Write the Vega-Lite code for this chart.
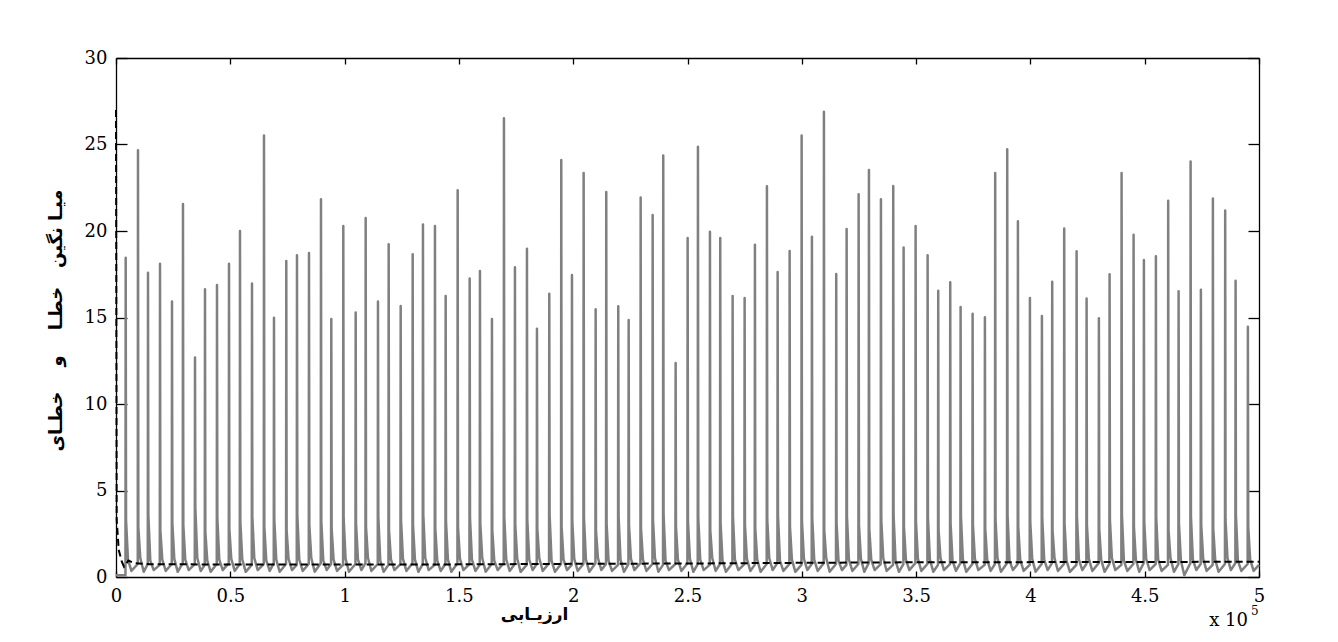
{
"$schema":"https://vega.github.io/schema/vega-lite/v6.json",
"width":1143,"height":519,
"autosize":{"type":"none"},
"padding":{"left":116,"top":58,"right":79,"bottom":65},
"background":"white",
"config":{"view":{"stroke":null},"axis":{"grid":false,"domainColor":"black","tickColor":"black","labelColor":"black","domainWidth":1.3,"tickWidth":1.3,"labelFont":"DejaVu Serif","labelFontSize":18,"labelFontWeight":"normal","labelFlush":false,"labelOverlap":false}},
"datasets":{
"gray":[
{"x":0,"y":0.1},{"x":4140,"y":0.1},{"x":4240,"y":18.46},{"x":4390,"y":3.3},{"x":5240,"y":1.0},{"x":6740,"y":0.35},
{"x":9520,"y":0.75},{"x":9620,"y":24.67},{"x":9770,"y":2.9},{"x":10620,"y":1.1},{"x":12120,"y":0.3},
{"x":13900,"y":0.75},{"x":14000,"y":17.58},{"x":14150,"y":3.6},{"x":15000,"y":0.95},{"x":16500,"y":0.4},
{"x":19150,"y":0.7},{"x":19250,"y":18.1},{"x":19400,"y":2.7},{"x":20250,"y":1.0},{"x":21750,"y":0.35},
{"x":24400,"y":0.75},{"x":24500,"y":15.92},{"x":24650,"y":3.1},{"x":25500,"y":1.05},{"x":27000,"y":0.3},
{"x":29200,"y":0.8},{"x":29300,"y":21.56},{"x":29450,"y":3.0},{"x":30300,"y":1.0},{"x":31800,"y":0.4},
{"x":34460,"y":0.75},{"x":34560,"y":12.69},{"x":34710,"y":4.0},{"x":35560,"y":1.1},{"x":37060,"y":0.35},
{"x":38830,"y":0.7},{"x":38930,"y":16.63},{"x":39080,"y":2.6},{"x":39930,"y":0.95},{"x":41430,"y":0.3},
{"x":44080,"y":0.75},{"x":44180,"y":16.88},{"x":44330,"y":3.4},{"x":45180,"y":1.0},{"x":46680,"y":0.4},
{"x":49330,"y":0.8},{"x":49430,"y":18.1},{"x":49580,"y":2.8},{"x":50430,"y":1.05},{"x":51930,"y":0.35},
{"x":54140,"y":0.75},{"x":54240,"y":20.0},{"x":54390,"y":3.2},{"x":55240,"y":1.0},{"x":56740,"y":0.3},
{"x":59390,"y":0.7},{"x":59490,"y":16.96},{"x":59640,"y":3.5},{"x":60490,"y":1.1},{"x":61990,"y":0.4},
{"x":64640,"y":0.75},{"x":64740,"y":25.52},{"x":64890,"y":2.9},{"x":65740,"y":0.95},{"x":67240,"y":0.35},
{"x":69010,"y":0.8},{"x":69110,"y":14.98},{"x":69260,"y":3.3},{"x":70110,"y":1.0},{"x":71610,"y":0.3},
{"x":74390,"y":0.75},{"x":74490,"y":18.27},{"x":74640,"y":2.7},{"x":75490,"y":1.05},{"x":76990,"y":0.4},
{"x":79070,"y":0.7},{"x":79170,"y":18.6},{"x":79320,"y":3.6},{"x":80170,"y":1.0},{"x":81670,"y":0.35},
{"x":84320,"y":0.75},{"x":84420,"y":18.73},{"x":84570,"y":3.0},{"x":85420,"y":1.1},{"x":86920,"y":0.3},
{"x":89570,"y":0.8},{"x":89670,"y":21.83},{"x":89820,"y":3.2},{"x":90670,"y":0.95},{"x":92170,"y":0.4},
{"x":94080,"y":0.75},{"x":94180,"y":14.92},{"x":94330,"y":2.8},{"x":95180,"y":1.0},{"x":96680,"y":0.35},
{"x":99330,"y":0.7},{"x":99430,"y":20.29},{"x":99580,"y":3.4},{"x":100430,"y":1.05},{"x":101930,"y":0.3},
{"x":104750,"y":0.75},{"x":104850,"y":15.29},{"x":105000,"y":3.1},{"x":105850,"y":1.0},{"x":107350,"y":0.4},
{"x":109120,"y":0.8},{"x":109220,"y":20.75},{"x":109370,"y":2.9},{"x":110220,"y":1.1},{"x":111720,"y":0.35},
{"x":114500,"y":0.75},{"x":114600,"y":15.92},{"x":114750,"y":3.5},{"x":115600,"y":0.95},{"x":117100,"y":0.3},
{"x":119180,"y":0.7},{"x":119280,"y":19.23},{"x":119430,"y":2.7},{"x":120280,"y":1.0},{"x":121780,"y":0.4},
{"x":124430,"y":0.75},{"x":124530,"y":15.67},{"x":124680,"y":3.3},{"x":125530,"y":1.05},{"x":127030,"y":0.35},
{"x":129680,"y":0.8},{"x":129780,"y":18.65},{"x":129930,"y":3.0},{"x":130780,"y":1.0},{"x":132280,"y":0.3},
{"x":134180,"y":0.75},{"x":134280,"y":20.37},{"x":134430,"y":3.6},{"x":135280,"y":1.1},{"x":136780,"y":0.4},
{"x":139430,"y":0.7},{"x":139530,"y":20.29},{"x":139680,"y":2.8},{"x":140530,"y":0.95},{"x":142030,"y":0.35},
{"x":144110,"y":0.75},{"x":144210,"y":16.25},{"x":144360,"y":3.2},{"x":145210,"y":1.0},{"x":146710,"y":0.3},
{"x":149360,"y":0.8},{"x":149460,"y":22.35},{"x":149610,"y":2.9},{"x":150460,"y":1.05},{"x":151960,"y":0.4},
{"x":154610,"y":0.75},{"x":154710,"y":17.25},{"x":154860,"y":3.4},{"x":155710,"y":1.0},{"x":157210,"y":0.35},
{"x":159110,"y":0.7},{"x":159210,"y":17.69},{"x":159360,"y":3.1},{"x":160210,"y":1.1},{"x":161710,"y":0.3},
{"x":164360,"y":0.75},{"x":164460,"y":14.92},{"x":164610,"y":2.7},{"x":165460,"y":0.95},{"x":166960,"y":0.4},
{"x":169610,"y":0.8},{"x":169710,"y":26.52},{"x":169860,"y":3.5},{"x":170710,"y":1.0},{"x":172210,"y":0.35},
{"x":174420,"y":0.75},{"x":174520,"y":17.9},{"x":174670,"y":3.0},{"x":175520,"y":1.05},{"x":177020,"y":0.3},
{"x":179670,"y":0.7},{"x":179770,"y":18.98},{"x":179920,"y":3.3},{"x":180770,"y":1.0},{"x":182270,"y":0.4},
{"x":184050,"y":0.75},{"x":184150,"y":14.35},{"x":184300,"y":2.8},{"x":185150,"y":1.1},{"x":186650,"y":0.35},
{"x":189430,"y":0.8},{"x":189530,"y":16.37},{"x":189680,"y":3.6},{"x":190530,"y":0.95},{"x":192030,"y":0.3},
{"x":194680,"y":0.75},{"x":194780,"y":24.1},{"x":194930,"y":2.9},{"x":195780,"y":1.0},{"x":197280,"y":0.4},
{"x":199360,"y":0.7},{"x":199460,"y":17.46},{"x":199610,"y":3.2},{"x":200460,"y":1.05},{"x":201960,"y":0.35},
{"x":204470,"y":0.75},{"x":204570,"y":23.35},{"x":204720,"y":3.4},{"x":205570,"y":1.0},{"x":207070,"y":0.3},
{"x":209720,"y":0.8},{"x":209820,"y":15.48},{"x":209970,"y":2.7},{"x":210820,"y":1.1},{"x":212320,"y":0.4},
{"x":214360,"y":0.75},{"x":214460,"y":22.25},{"x":214610,"y":3.1},{"x":215460,"y":0.95},{"x":216960,"y":0.35},
{"x":219610,"y":0.7},{"x":219710,"y":15.65},{"x":219860,"y":3.5},{"x":220710,"y":1.0},{"x":222210,"y":0.3},
{"x":224160,"y":0.75},{"x":224260,"y":14.85},{"x":224410,"y":3.0},{"x":225260,"y":1.05},{"x":226760,"y":0.4},
{"x":229410,"y":0.8},{"x":229510,"y":21.94},{"x":229660,"y":2.8},{"x":230510,"y":1.0},{"x":232010,"y":0.35},
{"x":234660,"y":0.75},{"x":234760,"y":20.92},{"x":234910,"y":3.3},{"x":235760,"y":1.1},{"x":237260,"y":0.3},
{"x":239290,"y":0.7},{"x":239390,"y":24.37},{"x":239540,"y":3.6},{"x":240390,"y":0.95},{"x":241890,"y":0.4},
{"x":244710,"y":0.75},{"x":244810,"y":12.37},{"x":244960,"y":2.9},{"x":245810,"y":1.0},{"x":247310,"y":0.35},
{"x":249960,"y":0.8},{"x":250060,"y":19.6},{"x":250210,"y":3.2},{"x":251060,"y":1.05},{"x":252560,"y":0.3},
{"x":254470,"y":0.75},{"x":254570,"y":24.87},{"x":254720,"y":3.4},{"x":255570,"y":1.0},{"x":257070,"y":0.4},
{"x":259720,"y":0.7},{"x":259820,"y":19.96},{"x":259970,"y":2.7},{"x":260820,"y":1.1},{"x":262320,"y":0.35},
{"x":264220,"y":0.75},{"x":264320,"y":19.6},{"x":264470,"y":3.1},{"x":265320,"y":0.95},{"x":266820,"y":0.3},
{"x":269640,"y":0.8},{"x":269740,"y":16.25},{"x":269890,"y":3.5},{"x":270740,"y":1.0},{"x":272240,"y":0.4},
{"x":274890,"y":0.75},{"x":274990,"y":16.12},{"x":275140,"y":3.0},{"x":275990,"y":1.05},{"x":277490,"y":0.35},
{"x":279400,"y":0.7},{"x":279500,"y":19.21},{"x":279650,"y":2.8},{"x":280500,"y":1.0},{"x":282000,"y":0.3},
{"x":284650,"y":0.75},{"x":284750,"y":22.58},{"x":284900,"y":3.3},{"x":285750,"y":1.1},{"x":287250,"y":0.4},
{"x":289330,"y":0.8},{"x":289430,"y":17.63},{"x":289580,"y":3.6},{"x":290430,"y":0.95},{"x":291930,"y":0.35},
{"x":294580,"y":0.75},{"x":294680,"y":18.85},{"x":294830,"y":2.9},{"x":295680,"y":1.0},{"x":297180,"y":0.3},
{"x":299830,"y":0.7},{"x":299930,"y":25.52},{"x":300080,"y":3.2},{"x":300930,"y":1.05},{"x":302430,"y":0.4},
{"x":304330,"y":0.75},{"x":304430,"y":19.67},{"x":304580,"y":3.4},{"x":305430,"y":1.0},{"x":306930,"y":0.35},
{"x":309580,"y":0.8},{"x":309680,"y":26.9},{"x":309830,"y":2.7},{"x":310680,"y":1.1},{"x":312180,"y":0.3},
{"x":314960,"y":0.75},{"x":315060,"y":17.52},{"x":315210,"y":3.1},{"x":316060,"y":0.95},{"x":317560,"y":0.4},
{"x":319510,"y":0.7},{"x":319610,"y":20.12},{"x":319760,"y":3.5},{"x":320610,"y":1.0},{"x":322110,"y":0.35},
{"x":324760,"y":0.75},{"x":324860,"y":22.13},{"x":325010,"y":3.0},{"x":325860,"y":1.05},{"x":327360,"y":0.3},
{"x":329270,"y":0.8},{"x":329370,"y":23.52},{"x":329520,"y":2.8},{"x":330370,"y":1.0},{"x":331870,"y":0.4},
{"x":334520,"y":0.75},{"x":334620,"y":21.83},{"x":334770,"y":3.3},{"x":335620,"y":1.1},{"x":337120,"y":0.35},
{"x":339900,"y":0.7},{"x":340000,"y":22.6},{"x":340150,"y":3.6},{"x":341000,"y":0.95},{"x":342500,"y":0.3},
{"x":344440,"y":0.75},{"x":344540,"y":19.04},{"x":344690,"y":2.9},{"x":345540,"y":1.0},{"x":347040,"y":0.4},
{"x":349690,"y":0.8},{"x":349790,"y":20.29},{"x":349940,"y":3.2},{"x":350790,"y":1.05},{"x":352290,"y":0.35},
{"x":354940,"y":0.75},{"x":355040,"y":18.6},{"x":355190,"y":3.4},{"x":356040,"y":1.0},{"x":357540,"y":0.3},
{"x":359580,"y":0.7},{"x":359680,"y":16.54},{"x":359830,"y":2.7},{"x":360680,"y":1.1},{"x":362180,"y":0.4},
{"x":364830,"y":0.75},{"x":364930,"y":17.04},{"x":365080,"y":3.1},{"x":365930,"y":0.95},{"x":367430,"y":0.35},
{"x":369370,"y":0.8},{"x":369470,"y":15.6},{"x":369620,"y":3.5},{"x":370470,"y":1.0},{"x":371970,"y":0.3},
{"x":374620,"y":0.75},{"x":374720,"y":15.21},{"x":374870,"y":3.0},{"x":375720,"y":1.05},{"x":377220,"y":0.4},
{"x":380000,"y":0.7},{"x":380100,"y":15.02},{"x":380250,"y":2.8},{"x":381100,"y":1.0},{"x":382600,"y":0.35},
{"x":384500,"y":0.75},{"x":384600,"y":23.35},{"x":384750,"y":3.3},{"x":385600,"y":1.1},{"x":387100,"y":0.3},
{"x":389760,"y":0.8},{"x":389860,"y":24.73},{"x":390010,"y":3.6},{"x":390860,"y":0.95},{"x":392360,"y":0.4},
{"x":394440,"y":0.75},{"x":394540,"y":20.56},{"x":394690,"y":2.9},{"x":395540,"y":1.0},{"x":397040,"y":0.35},
{"x":399690,"y":0.7},{"x":399790,"y":16.13},{"x":399940,"y":3.2},{"x":400790,"y":1.05},{"x":402290,"y":0.3},
{"x":404940,"y":0.75},{"x":405040,"y":15.08},{"x":405190,"y":3.4},{"x":406040,"y":1.0},{"x":407540,"y":0.4},
{"x":409440,"y":0.8},{"x":409540,"y":17.06},{"x":409690,"y":2.7},{"x":410540,"y":1.1},{"x":412040,"y":0.35},
{"x":414690,"y":0.75},{"x":414790,"y":20.15},{"x":414940,"y":3.1},{"x":415790,"y":0.95},{"x":417290,"y":0.3},
{"x":420110,"y":0.7},{"x":420210,"y":18.83},{"x":420360,"y":3.5},{"x":421210,"y":1.0},{"x":422710,"y":0.4},
{"x":424480,"y":0.75},{"x":424580,"y":16.1},{"x":424730,"y":3.0},{"x":425580,"y":1.05},{"x":427080,"y":0.35},
{"x":429860,"y":0.8},{"x":429960,"y":14.96},{"x":430110,"y":2.8},{"x":430960,"y":1.0},{"x":432460,"y":0.3},
{"x":434540,"y":0.75},{"x":434640,"y":17.5},{"x":434790,"y":3.3},{"x":435640,"y":1.1},{"x":437140,"y":0.4},
{"x":439790,"y":0.7},{"x":439890,"y":23.35},{"x":440040,"y":3.6},{"x":440890,"y":0.95},{"x":442390,"y":0.35},
{"x":445040,"y":0.75},{"x":445140,"y":19.79},{"x":445290,"y":2.9},{"x":446140,"y":1.0},{"x":447640,"y":0.3},
{"x":449550,"y":0.8},{"x":449650,"y":18.33},{"x":449800,"y":3.2},{"x":450650,"y":1.05},{"x":452150,"y":0.4},
{"x":454800,"y":0.75},{"x":454900,"y":18.54},{"x":455050,"y":3.4},{"x":455900,"y":1.0},{"x":457400,"y":0.35},
{"x":460180,"y":0.7},{"x":460280,"y":21.75},{"x":460430,"y":2.7},{"x":461280,"y":1.1},{"x":462780,"y":0.3},
{"x":464730,"y":0.75},{"x":464830,"y":16.52},{"x":464980,"y":3.1},{"x":465830,"y":0.95},{"x":467330,"y":0.1},
{"x":469980,"y":0.8},{"x":470080,"y":24.02},{"x":470230,"y":3.5},{"x":471080,"y":1.0},{"x":472580,"y":0.4},
{"x":474480,"y":0.75},{"x":474580,"y":16.6},{"x":474730,"y":3.0},{"x":475580,"y":1.05},{"x":477080,"y":0.35},
{"x":479730,"y":0.7},{"x":479830,"y":21.88},{"x":479980,"y":2.8},{"x":480830,"y":1.0},{"x":482330,"y":0.3},
{"x":485110,"y":0.75},{"x":485210,"y":21.19},{"x":485360,"y":3.3},{"x":486210,"y":1.1},{"x":487710,"y":0.4},
{"x":489660,"y":0.8},{"x":489760,"y":17.12},{"x":489910,"y":3.6},{"x":490760,"y":0.95},{"x":492260,"y":0.35},
{"x":495040,"y":0.75},{"x":495140,"y":14.46},{"x":495290,"y":2.9},{"x":496140,"y":1.0},{"x":497640,"y":0.35},
{"x":500000,"y":0.7}
],
"dash":[
{"x":0,"y":27},{"x":300,"y":3.3},{"x":1200,"y":1.56},{"x":2500,"y":0.9},{"x":3500,"y":0.6},{"x":5400,"y":0.95},{"x":8000,"y":0.8},{"x":15000,"y":0.74},{"x":50000,"y":0.72},{"x":100000,"y":0.72},{"x":150000,"y":0.73},{"x":200000,"y":0.76},{"x":250000,"y":0.78},{"x":300000,"y":0.82},{"x":350000,"y":0.85},{"x":400000,"y":0.86},{"x":450000,"y":0.87},{"x":500000,"y":0.88}
],
"note":[{"x":500000,"y":0,"t":"x 10","s":"5"}]
},
"layer":[
{"data":{"name":"gray"},
 "mark":{"type":"line","color":"#808080","strokeWidth":2.5,"strokeJoin":"round"},
 "encoding":{
  "x":{"field":"x","type":"quantitative","scale":{"domain":[0,500000],"nice":false},
   "axis":{"orient":"bottom","values":[0,50000,100000,150000,200000,250000,300000,350000,400000,450000,500000],"labelExpr":"datum.value/100000","tickSize":-6,"labelPadding":16,
    "title":"ارزیـابی","titleFont":"DejaVu Sans","titleFontSize":17,"titleFontWeight":"bold","titleColor":"black","titleX":418,"titleY":37,"titleBaseline":"middle","titleAlign":"center"}},
  "y":{"field":"y","type":"quantitative","scale":{"domain":[0,30],"nice":false},
   "axis":{"orient":"left","values":[0,5,10,15,20,25,30],"tickSize":-11,"labelPadding":20,
    "title":"میـا نگین\u00a0\u00a0 خطـا\u00a0\u00a0\u00a0 و\u00a0\u00a0\u00a0 خطـای","titleFont":"DejaVu Sans","titleFontSize":18,"titleFontWeight":"bold","titleColor":"black","titleX":-60,"titleY":262,"titleBaseline":"middle","titleAlign":"center","titleAngle":-90}}
 }},
{"data":{"name":"dash"},
 "mark":{"type":"line","color":"black","strokeWidth":2,"strokeDash":[7,4]},
 "encoding":{
  "x":{"field":"x","type":"quantitative","scale":{"domain":[0,500000],"nice":false},
   "axis":{"orient":"top","values":[0,50000,100000,150000,200000,250000,300000,350000,400000,450000,500000],"labels":false,"tickSize":-6,"title":null}},
  "y":{"field":"y","type":"quantitative","scale":{"domain":[0,30],"nice":false},
   "axis":{"orient":"right","values":[0,5,10,15,20,25,30],"labels":false,"tickSize":-11,"title":null}}
 }},
{"data":{"name":"note"},
 "mark":{"type":"text","align":"right","baseline":"alphabetic","dx":-11,"dy":49,"font":"DejaVu Serif","fontSize":18,"color":"black"},
 "encoding":{"x":{"field":"x","type":"quantitative","axis":null},"y":{"field":"y","type":"quantitative","axis":null},"text":{"field":"t"}}},
{"data":{"name":"note"},
 "mark":{"type":"text","align":"left","baseline":"alphabetic","dx":-8,"dy":38,"font":"DejaVu Serif","fontSize":12,"color":"black"},
 "encoding":{"x":{"field":"x","type":"quantitative","axis":null},"y":{"field":"y","type":"quantitative","axis":null},"text":{"field":"s"}}}
],
"resolve":{"axis":{"x":"independent","y":"independent"}}
}
